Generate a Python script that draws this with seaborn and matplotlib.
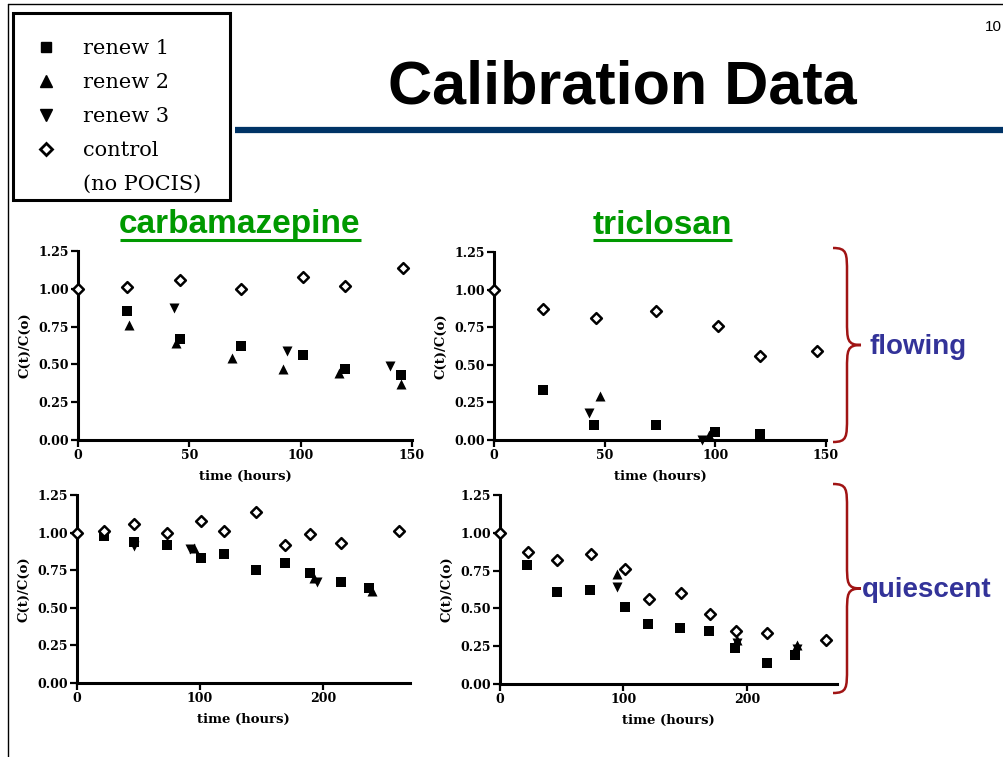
import numpy as np
import pandas as pd
import matplotlib
matplotlib.use("Agg")
import matplotlib.pyplot as plt
import seaborn as sns
from matplotlib.lines import Line2D
from matplotlib.path import Path
from matplotlib.patches import PathPatch, Rectangle

# ---------------- data ----------------
# carbamazepine, flowing
CBZ_FLOW_R1_T = [22, 46, 73, 101, 120, 145]
CBZ_FLOW_R1_Y = [0.85, 0.67, 0.62, 0.56, 0.47, 0.43]
CBZ_FLOW_R2_T = [23, 44, 69, 92, 117, 145]
CBZ_FLOW_R2_Y = [0.76, 0.64, 0.54, 0.47, 0.44, 0.37]
CBZ_FLOW_R3_T = [43, 94, 140]
CBZ_FLOW_R3_Y = [0.87, 0.59, 0.49]
CBZ_FLOW_C_T = [0, 22, 46, 73, 101, 120, 146]
CBZ_FLOW_C_Y = [1.00, 1.01, 1.06, 1.00, 1.08, 1.02, 1.14]

# triclosan, flowing
TCS_FLOW_R1_T = [22, 45, 73, 100, 120]
TCS_FLOW_R1_Y = [0.33, 0.10, 0.10, 0.05, 0.04]
TCS_FLOW_R2_T = [48, 97]
TCS_FLOW_R2_Y = [0.29, 0.03]
TCS_FLOW_R3_T = [43, 94]
TCS_FLOW_R3_Y = [0.18, 0.00]
TCS_FLOW_C_T = [0, 22, 46, 73, 101, 120, 146]
TCS_FLOW_C_Y = [1.00, 0.87, 0.81, 0.86, 0.76, 0.56, 0.59]

# carbamazepine, quiescent
CBZ_QUI_R1_T = [22, 46, 73, 101, 120, 146, 169, 190, 215, 238]
CBZ_QUI_R1_Y = [0.98, 0.94, 0.92, 0.83, 0.86, 0.75, 0.80, 0.73, 0.67, 0.63]
CBZ_QUI_R2_T = [95, 193, 240]
CBZ_QUI_R2_Y = [0.90, 0.70, 0.61]
CBZ_QUI_R3_T = [46, 92, 195]
CBZ_QUI_R3_Y = [0.91, 0.89, 0.67]
CBZ_QUI_C_T = [0, 22, 46, 73, 101, 120, 146, 169, 190, 215, 262]
CBZ_QUI_C_Y = [1.00, 1.01, 1.06, 1.00, 1.08, 1.01, 1.14, 0.92, 0.99, 0.93, 1.01]

# triclosan, quiescent
TCS_QUI_R1_T = [22, 46, 73, 101, 120, 146, 169, 190, 216, 239]
TCS_QUI_R1_Y = [0.79, 0.61, 0.62, 0.51, 0.40, 0.37, 0.35, 0.24, 0.14, 0.19]
TCS_QUI_R2_T = [95, 192, 241]
TCS_QUI_R2_Y = [0.73, 0.29, 0.26]
TCS_QUI_R3_T = [95, 192, 241]
TCS_QUI_R3_Y = [0.64, 0.27, 0.23]
TCS_QUI_C_T = [0, 23, 46, 74, 101, 121, 147, 170, 191, 216, 264]
TCS_QUI_C_Y = [1.00, 0.87, 0.82, 0.86, 0.76, 0.56, 0.60, 0.46, 0.35, 0.34, 0.29]

SERIES = ["renew 1", "renew 2", "renew 3", "control", "(no POCIS)"]
Y_TICKS = [0.00, 0.25, 0.50, 0.75, 1.00, 1.25]
X_TICKS_FLOW = [0, 50, 100, 150]
X_TICKS_QUI = [0, 100, 200]
COMPOUNDS = ["carbamazepine", "triclosan"]
REGIMES = ["flowing", "quiescent"]
TITLE = "Calibration Data"
PAGE = "10"

# ---------------- style ----------------
sns.set_style("ticks")
plt.rcParams["font.family"] = ["DejaVu Serif"]
for k in ["text.color", "axes.labelcolor", "xtick.color", "ytick.color",
          "axes.edgecolor"]:
    plt.rcParams[k] = "black"

W, H = 1004, 757
fig = plt.figure(figsize=(W / 100, H / 100), dpi=100)

# overlay in pixel coordinates for decorations
ov = fig.add_axes([0, 0, 1, 1], zorder=0)
ov.set_xlim(0, W)
ov.set_ylim(H, 0)
ov.axis("off")

# page frame lines
ov.plot([8, W], [4, 4], color="black", lw=1.0)
ov.plot([8, 8], [4, H], color="black", lw=1.0)
# blue rule under title
ov.plot([235, W], [130, 130], color="#003366", lw=4.5, solid_capstyle="butt")
# legend frame
ov.add_patch(Rectangle((13, 13), 217, 187, fill=False, edgecolor="black", lw=2.2))

fig.text(622 / W, 1 - 88 / H, TITLE, ha="center", va="center",
         fontsize=44, fontweight="bold", family="Liberation Sans", color="black")
fig.text(985 / W, 1 - 27 / H, PAGE, ha="left", va="center",
         fontsize=11, family="Liberation Sans", color="black")

green = "#009900"
for name, cx in zip(COMPOUNDS, [240, 662]):
    fig.text(cx / W, 1 - 225 / H, name, ha="center", va="center",
             fontsize=24, fontweight="bold", color=green,
             family="Liberation Sans")
# underline
for x0, x1 in [(120, 361), (593, 732)]:
    ov.plot([x0, x1], [240, 240], color=green, lw=2.2, solid_capstyle="butt")


def brace(x0, ytop, ybot, w, color):
    ym = (ytop + ybot) / 2
    xm = x0 + w * 0.5
    xt = x0 + w
    r = w * 0.9
    verts = [
        (x0, ytop), (xm, ytop), (xm, ytop + r * 0.2), (xm, ytop + r),
        (xm, ym - r),
        (xm, ym - r * 0.2), (xm, ym), (xt, ym),
        (xm, ym), (xm, ym + r * 0.2), (xm, ym + r),
        (xm, ybot - r),
        (xm, ybot - r * 0.2), (xm, ybot), (x0, ybot),
    ]
    codes = [Path.MOVETO, Path.CURVE4, Path.CURVE4, Path.CURVE4,
             Path.LINETO,
             Path.CURVE4, Path.CURVE4, Path.CURVE4,
             Path.CURVE4, Path.CURVE4, Path.CURVE4,
             Path.LINETO,
             Path.CURVE4, Path.CURVE4, Path.CURVE4]
    ov.add_patch(PathPatch(Path(verts, codes), fill=False, edgecolor=color, lw=1.8))


red = "#A01414"
brace(833, 248, 442, 28, red)
brace(833, 484, 693, 28, red)
purple = "#333399"
fig.text(870 / W, 1 - 347 / H, REGIMES[0], ha="left", va="center", fontsize=20,
         fontweight="bold", color=purple, family="Liberation Sans")
fig.text(862 / W, 1 - 590 / H, REGIMES[1], ha="left", va="center", fontsize=20,
         fontweight="bold", color=purple, family="Liberation Sans")

# ---------------- panels ----------------
panels = [
    ((78, 412, 251, 440), (0, 150), X_TICKS_FLOW,
     [(CBZ_FLOW_R1_T, CBZ_FLOW_R1_Y), (CBZ_FLOW_R2_T, CBZ_FLOW_R2_Y),
      (CBZ_FLOW_R3_T, CBZ_FLOW_R3_Y), (CBZ_FLOW_C_T, CBZ_FLOW_C_Y)]),
    ((494, 826, 252, 440), (0, 150), X_TICKS_FLOW,
     [(TCS_FLOW_R1_T, TCS_FLOW_R1_Y), (TCS_FLOW_R2_T, TCS_FLOW_R2_Y),
      (TCS_FLOW_R3_T, TCS_FLOW_R3_Y), (TCS_FLOW_C_T, TCS_FLOW_C_Y)]),
    ((77, 410, 495, 683), (0, 271), X_TICKS_QUI,
     [(CBZ_QUI_R1_T, CBZ_QUI_R1_Y), (CBZ_QUI_R2_T, CBZ_QUI_R2_Y),
      (CBZ_QUI_R3_T, CBZ_QUI_R3_Y), (CBZ_QUI_C_T, CBZ_QUI_C_Y)]),
    ((500, 837, 495, 684), (0, 273), X_TICKS_QUI,
     [(TCS_QUI_R1_T, TCS_QUI_R1_Y), (TCS_QUI_R2_T, TCS_QUI_R2_Y),
      (TCS_QUI_R3_T, TCS_QUI_R3_Y), (TCS_QUI_C_T, TCS_QUI_C_Y)]),
]

styles = [
    dict(marker="s", s=42, color="black", edgecolor="black", linewidth=0),
    dict(marker="^", s=52, color="black", edgecolor="black", linewidth=0),
    dict(marker="v", s=52, color="black", edgecolor="black", linewidth=0),
    dict(marker="D", s=30, color="white", edgecolor="black", linewidth=1.8),
]

for (l, r, t, b), xlim, xticks, series in panels:
    ax = fig.add_axes([l / W, 1 - b / H, (r - l) / W, (b - t) / H], zorder=2)
    ax.patch.set_alpha(0)
    for (tt, yy), st in zip(series, styles):
        df = pd.DataFrame({"time": tt, "ratio": yy})
        sns.scatterplot(data=df, x="time", y="ratio", ax=ax, legend=False,
                        clip_on=False, zorder=3, **st)
    ax.set_xlim(*xlim)
    ax.set_ylim(0, 1.25)
    ax.set_xticks(xticks)
    ax.set_yticks(Y_TICKS)
    ax.set_yticklabels([f"{v:.2f}" for v in Y_TICKS])
    sns.despine(ax=ax)
    for sp in ["left", "bottom"]:
        ax.spines[sp].set_linewidth(2.2)
        ax.spines[sp].set_color("black")
    ax.tick_params(direction="out", length=5, width=1.6, labelsize=9, pad=1.5,
                   colors="black")
    for lbl in ax.get_xticklabels() + ax.get_yticklabels():
        lbl.set_fontweight("bold")
    ax.set_xlabel("time (hours)", fontsize=9.5, fontweight="bold", labelpad=6)
    ax.set_ylabel("C(t)/C(o)", fontsize=9.5, fontweight="bold", labelpad=5)

# ---------------- legend ----------------
handles = [
    Line2D([], [], ls="", marker="s", ms=7, color="black"),
    Line2D([], [], ls="", marker="^", ms=8, color="black"),
    Line2D([], [], ls="", marker="v", ms=8, color="black"),
    Line2D([], [], ls="", marker="D", ms=6, mfc="white", mec="black", mew=2),
    Line2D([], [], ls="", marker=None),
]
leg = fig.legend(handles, SERIES, loc="upper left",
                 bbox_to_anchor=(36 / W, 1 - 39 / H), frameon=False,
                 prop=dict(family="DejaVu Serif", size=15),
                 handlelength=1.0, handletextpad=1.25, borderpad=0,
                 labelspacing=0.72, borderaxespad=0)

fig.savefig("out.png", dpi=100)
